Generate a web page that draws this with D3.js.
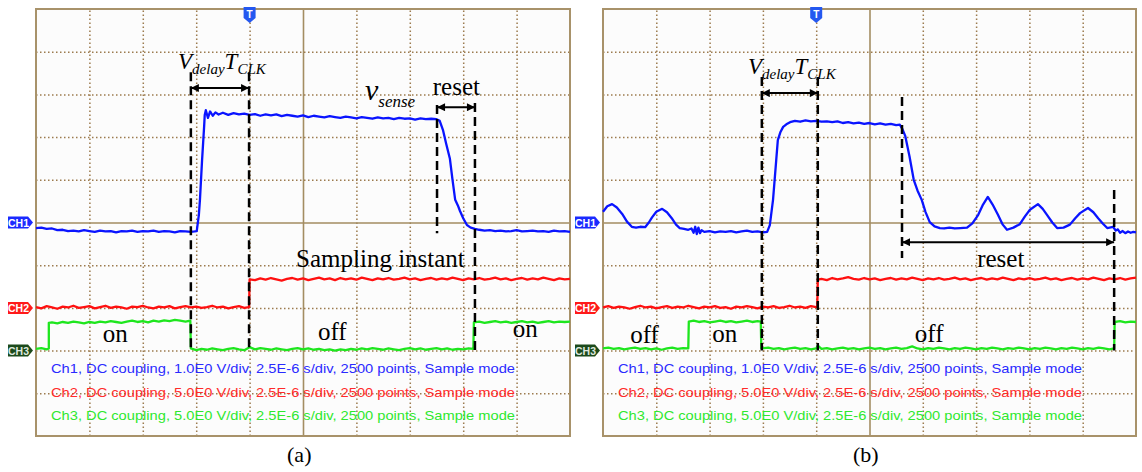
<!DOCTYPE html>
<html>
<head>
<meta charset="utf-8">
<script src="https://cdn.jsdelivr.net/npm/d3@7"></script>
<style>
  body { margin: 0; background: #fff; }
  svg { display: block; }
</style>
</head>
<body>
<div id="vis"></div>
<script>
// time in divisions (2.5E-6 s/div), value in divisions from screen centre
const ch1a = [[0,-0.13],[0.1,-0.12],[0.2,-0.15],[0.3,-0.14],[0.4,-0.18],[0.5,-0.17],[0.6,-0.2],[0.7,-0.19],[0.8,-0.21],[0.9,-0.18],
  [1.0,-0.2],[1.1,-0.22],[1.2,-0.19],[1.3,-0.21],[1.4,-0.2],[1.5,-0.23],[1.6,-0.2],[1.7,-0.21],[1.8,-0.19],[1.9,-0.22],
  [2.0,-0.2],[2.1,-0.21],[2.2,-0.19],[2.3,-0.22],[2.4,-0.2],[2.5,-0.21],[2.6,-0.23],[2.7,-0.2],[2.8,-0.21],[2.9,-0.22],
  [2.97,-0.21],[3.01,-0.2],[3.05,0.18],[3.07,0.53],[3.11,1.46],[3.15,2.28],[3.16,2.52],[3.18,2.63],[3.22,2.45],[3.26,2.6],
  [3.31,2.5],[3.36,2.58],[3.42,2.53],[3.5,2.57],[3.6,2.52],[3.7,2.56],[3.8,2.53],[3.9,2.55],[4.0,2.52],[4.1,2.54],
  [4.2,2.5],[4.3,2.53],[4.4,2.51],[4.5,2.53],[4.6,2.49],[4.7,2.52],[4.8,2.5],[4.9,2.48],[5.0,2.51],[5.1,2.47],
  [5.2,2.5],[5.3,2.48],[5.4,2.46],[5.5,2.49],[5.6,2.47],[5.7,2.45],[5.8,2.48],[5.9,2.46],[6.0,2.44],[6.1,2.47],
  [6.2,2.45],[6.3,2.43],[6.4,2.46],[6.5,2.44],[6.6,2.45],[6.7,2.42],[6.8,2.45],[6.9,2.43],[7.0,2.44],[7.1,2.41],
  [7.2,2.44],[7.3,2.42],[7.4,2.43],[7.5,2.42],[7.56,2.38],[7.62,2.17],[7.68,1.85],[7.75,1.5],[7.8,1.0],[7.85,0.53],
  [7.9,0.4],[7.94,0.27],[8.0,0.1],[8.07,-0.06],[8.14,-0.12],[8.22,-0.15],[8.3,-0.17],[8.4,-0.19],[8.5,-0.18],[8.6,-0.2],
  [8.7,-0.19],[8.8,-0.21],[8.9,-0.2],[9.0,-0.18],[9.1,-0.21],[9.2,-0.2],[9.3,-0.19],[9.4,-0.21],[9.5,-0.2],[9.6,-0.22],
  [9.7,-0.19],[9.8,-0.21],[9.9,-0.2],[10,-0.22]];

const ch2a = [[0,-1.98],[0.1,-2.01],[0.2,-1.96],[0.3,-1.99],[0.4,-2.02],[0.5,-1.97],[0.6,-1.99],[0.7,-1.95],[0.8,-2.0],[0.9,-1.98],
  [1.0,-1.96],[1.1,-2.01],[1.2,-1.98],[1.3,-1.95],[1.4,-2.0],[1.5,-1.97],[1.6,-1.99],[1.7,-2.02],[1.8,-1.97],[1.9,-1.98],
  [2.0,-1.95],[2.1,-1.99],[2.2,-2.01],[2.3,-1.97],[2.4,-1.99],[2.5,-1.96],[2.6,-2.01],[2.7,-1.98],[2.8,-1.96],[2.9,-1.99],
  [3.0,-1.97],[3.1,-2.0],[3.2,-1.98],[3.3,-1.95],[3.4,-1.99],[3.5,-1.97],[3.6,-2.01],[3.7,-1.98],[3.8,-1.96],[3.9,-2.0],
  [3.99,-1.98],[4.0,-1.33],[4.1,-1.35],[4.2,-1.31],[4.3,-1.34],[4.4,-1.3],[4.5,-1.33],[4.6,-1.36],[4.7,-1.32],[4.8,-1.3],
  [4.9,-1.34],[5.0,-1.31],[5.1,-1.35],[5.2,-1.32],[5.3,-1.29],[5.4,-1.33],[5.5,-1.31],[5.6,-1.35],[5.7,-1.3],[5.8,-1.33],
  [5.9,-1.31],[6.0,-1.34],[6.1,-1.29],[6.2,-1.32],[6.3,-1.35],[6.4,-1.31],[6.5,-1.33],[6.6,-1.3],[6.7,-1.34],[6.8,-1.32],
  [6.9,-1.29],[7.0,-1.33],[7.1,-1.31],[7.2,-1.35],[7.3,-1.32],[7.4,-1.3],[7.5,-1.34],[7.6,-1.31],[7.7,-1.33],[7.8,-1.29],
  [7.9,-1.32],[8.0,-1.35],[8.1,-1.31],[8.2,-1.33],[8.3,-1.3],[8.4,-1.34],[8.5,-1.32],[8.6,-1.29],[8.7,-1.33],[8.8,-1.31],
  [8.9,-1.35],[9.0,-1.32],[9.1,-1.3],[9.2,-1.34],[9.3,-1.31],[9.4,-1.33],[9.5,-1.29],[9.6,-1.32],[9.7,-1.35],[9.8,-1.31],
  [9.9,-1.33],[10,-1.32]];

const ch3a = [[0,-2.96],[0.1,-2.94],[0.2,-2.97],[0.24,-2.95],[0.24,-2.35],[0.3,-2.34],[0.4,-2.36],[0.5,-2.33],[0.6,-2.35],[0.7,-2.32],
  [0.8,-2.34],[0.9,-2.36],[1.0,-2.33],[1.1,-2.35],[1.2,-2.32],[1.3,-2.34],[1.4,-2.31],[1.5,-2.33],[1.6,-2.35],[1.7,-2.32],
  [1.8,-2.3],[1.9,-2.33],[2.0,-2.31],[2.1,-2.34],[2.2,-2.3],[2.3,-2.32],[2.4,-2.29],[2.5,-2.31],[2.6,-2.28],[2.7,-2.3],
  [2.8,-2.32],[2.89,-2.3],[2.9,-2.95],[3.0,-2.99],[3.1,-2.96],[3.2,-2.98],[3.3,-2.95],[3.4,-2.97],[3.5,-2.99],[3.6,-2.96],
  [3.7,-2.94],[3.8,-2.97],[3.9,-2.99],[4.0,-2.92],[4.1,-2.97],[4.2,-2.94],[4.3,-2.96],[4.4,-2.98],[4.5,-2.95],[4.6,-2.97],
  [4.7,-2.99],[4.8,-2.96],[4.9,-2.94],[5.0,-2.97],[5.1,-2.95],[5.2,-2.98],[5.3,-2.96],[5.4,-2.99],[5.5,-2.97],[5.6,-3.0],
  [5.7,-2.97],[5.8,-2.99],[5.9,-2.96],[6.0,-2.98],[6.1,-2.95],[6.2,-2.97],[6.3,-2.94],[6.4,-2.96],[6.5,-2.98],[6.6,-2.95],
  [6.7,-2.97],[6.8,-2.99],[6.9,-2.96],[7.0,-2.94],[7.1,-2.97],[7.2,-2.95],[7.3,-2.98],[7.4,-2.96],[7.5,-2.94],[7.6,-2.97],
  [7.7,-2.95],[7.8,-2.98],[7.9,-2.96],[8.0,-2.97],[8.1,-2.95],[8.19,-2.96],[8.2,-2.34],[8.3,-2.32],[8.4,-2.35],[8.5,-2.33],
  [8.6,-2.31],[8.7,-2.34],[8.8,-2.32],[8.9,-2.35],[9.0,-2.33],[9.1,-2.31],[9.2,-2.34],[9.3,-2.32],[9.4,-2.35],[9.5,-2.33],
  [9.6,-2.31],[9.7,-2.34],[9.8,-2.32],[9.9,-2.33],[10,-2.32]];

const ch1b = [[0,0.25],[0.08,0.38],[0.17,0.43],[0.26,0.35],[0.36,0.2],[0.45,0.02],[0.54,-0.1],[0.62,-0.12],[0.7,-0.1],[0.79,-0.11],
  [0.86,0.0],[0.92,0.12],[1.0,0.25],[1.11,0.32],[1.2,0.24],[1.29,0.1],[1.37,-0.05],[1.44,-0.13],[1.52,-0.15],[1.6,-0.17],
  [1.66,-0.14],[1.7,-0.24],[1.73,-0.1],[1.76,-0.27],[1.79,-0.12],[1.82,-0.25],[1.85,-0.18],[1.9,-0.22],[2.0,-0.2],[2.1,-0.23],
  [2.2,-0.21],[2.3,-0.22],[2.4,-0.2],[2.5,-0.23],[2.6,-0.21],[2.7,-0.19],[2.8,-0.22],[2.9,-0.21],[3.0,-0.23],[3.08,-0.22],
  [3.13,-0.06],[3.19,0.53],[3.25,1.46],[3.28,1.93],[3.33,2.12],[3.38,2.24],[3.44,2.3],[3.51,2.35],[3.6,2.38],[3.7,2.36],
  [3.8,2.39],[3.9,2.37],[4.0,2.38],[4.1,2.36],[4.2,2.37],[4.3,2.35],[4.4,2.37],[4.5,2.33],[4.6,2.35],[4.7,2.32],
  [4.8,2.34],[4.9,2.31],[5.0,2.33],[5.1,2.3],[5.2,2.32],[5.3,2.29],[5.4,2.31],[5.5,2.28],[5.57,2.29],[5.62,2.18],
  [5.67,2.03],[5.75,1.55],[5.83,1.0],[5.9,0.75],[5.98,0.53],[6.05,0.25],[6.13,0.01],[6.22,-0.09],[6.32,-0.13],[6.4,-0.14],
  [6.5,-0.12],[6.6,-0.14],[6.7,-0.13],[6.83,-0.12],[6.93,-0.02],[7.04,0.18],[7.13,0.42],[7.22,0.6],[7.31,0.42],[7.41,0.18],
  [7.5,-0.05],[7.58,-0.17],[7.7,-0.12],[7.82,-0.04],[7.92,0.15],[8.01,0.3],[8.16,0.43],[8.25,0.32],[8.33,0.18],[8.43,0.0],
  [8.52,-0.13],[8.64,-0.12],[8.76,-0.05],[8.86,0.1],[8.95,0.22],[9.1,0.34],[9.2,0.24],[9.29,0.1],[9.38,-0.03],[9.46,-0.13],
  [9.57,-0.1],[9.62,-0.19],[9.66,-0.16],[9.7,-0.24],[9.75,-0.2],[9.8,-0.25],[9.85,-0.21],[9.9,-0.24],[9.95,-0.22],[10,-0.23]];

const ch2b = [[0,-1.99],[0.1,-1.96],[0.2,-2.0],[0.3,-1.97],[0.4,-1.99],[0.5,-2.02],[0.6,-1.98],[0.7,-1.95],[0.8,-1.99],[0.9,-1.97],
  [1.0,-2.01],[1.1,-1.98],[1.2,-1.96],[1.3,-2.0],[1.4,-1.97],[1.5,-1.99],[1.6,-1.95],[1.7,-1.98],[1.8,-2.01],[1.9,-1.97],
  [2.0,-1.99],[2.1,-1.96],[2.2,-2.0],[2.3,-1.98],[2.4,-2.02],[2.5,-1.97],[2.6,-1.99],[2.7,-1.96],[2.8,-1.98],[2.9,-2.01],
  [3.0,-1.97],[3.1,-1.99],[3.2,-1.96],[3.3,-2.0],[3.4,-1.98],[3.5,-1.95],[3.6,-1.99],[3.7,-1.97],[3.8,-2.0],[3.9,-1.96],
  [4.0,-1.98],[4.02,-1.97],[4.03,-1.34],[4.1,-1.32],[4.2,-1.35],[4.3,-1.3],[4.4,-1.33],[4.5,-1.31],[4.6,-1.28],[4.7,-1.32],
  [4.8,-1.34],[4.9,-1.3],[5.0,-1.33],[5.1,-1.31],[5.2,-1.35],[5.3,-1.32],[5.4,-1.3],[5.5,-1.34],[5.6,-1.31],[5.7,-1.33],
  [5.8,-1.29],[5.9,-1.32],[6.0,-1.35],[6.1,-1.31],[6.2,-1.33],[6.3,-1.3],[6.4,-1.34],[6.5,-1.32],[6.6,-1.29],[6.7,-1.33],
  [6.8,-1.31],[6.9,-1.35],[7.0,-1.32],[7.1,-1.3],[7.2,-1.34],[7.3,-1.31],[7.4,-1.33],[7.5,-1.29],[7.6,-1.32],[7.7,-1.35],
  [7.8,-1.31],[7.9,-1.33],[8.0,-1.3],[8.1,-1.34],[8.2,-1.32],[8.3,-1.29],[8.4,-1.33],[8.5,-1.31],[8.6,-1.35],[8.7,-1.32],
  [8.8,-1.3],[8.9,-1.34],[9.0,-1.31],[9.1,-1.33],[9.2,-1.29],[9.3,-1.32],[9.4,-1.35],[9.5,-1.31],[9.6,-1.33],[9.7,-1.3],
  [9.8,-1.34],[9.9,-1.31],[10,-1.29]];

const ch3b = [[0,-2.95],[0.1,-2.93],[0.2,-2.96],[0.3,-2.94],[0.4,-2.97],[0.5,-2.95],[0.6,-2.93],[0.7,-2.96],[0.8,-2.94],[0.9,-2.97],
  [1.0,-2.95],[1.1,-2.98],[1.2,-2.95],[1.3,-2.93],[1.4,-2.96],[1.5,-2.94],[1.6,-2.95],[1.61,-2.32],[1.7,-2.3],[1.8,-2.33],
  [1.9,-2.31],[2.0,-2.34],[2.1,-2.32],[2.2,-2.3],[2.3,-2.33],[2.4,-2.31],[2.5,-2.34],[2.6,-2.32],[2.7,-2.3],[2.8,-2.33],
  [2.9,-2.31],[2.96,-2.32],[2.97,-2.95],[3.1,-2.93],[3.2,-2.96],[3.3,-2.94],[3.4,-2.97],[3.5,-2.95],[3.6,-2.93],[3.7,-2.96],
  [3.8,-2.94],[3.9,-2.97],[4.0,-2.95],[4.03,-2.88],[4.1,-2.96],[4.2,-2.94],[4.3,-2.97],[4.4,-2.95],[4.5,-2.93],[4.6,-2.96],
  [4.7,-2.94],[4.8,-2.97],[4.9,-2.95],[5.0,-2.93],[5.1,-2.96],[5.2,-2.94],[5.3,-2.97],[5.4,-2.95],[5.5,-2.93],[5.6,-2.96],
  [5.7,-2.94],[5.8,-2.9],[5.9,-2.95],[6.0,-2.97],[6.1,-2.94],[6.2,-2.96],[6.3,-2.93],[6.4,-2.95],[6.5,-2.97],[6.6,-2.94],
  [6.7,-2.96],[6.8,-2.93],[6.9,-2.95],[7.0,-2.97],[7.1,-2.94],[7.2,-2.96],[7.3,-2.93],[7.4,-2.95],[7.5,-2.97],[7.6,-2.94],
  [7.7,-2.96],[7.8,-2.93],[7.9,-2.95],[8.0,-2.97],[8.1,-2.94],[8.2,-2.96],[8.3,-2.93],[8.4,-2.95],[8.5,-2.97],[8.6,-2.94],
  [8.7,-2.96],[8.8,-2.93],[8.9,-2.95],[9.0,-2.97],[9.1,-2.94],[9.2,-2.96],[9.3,-2.93],[9.4,-2.95],[9.5,-2.97],[9.59,-2.95],
  [9.6,-2.33],[9.7,-2.31],[9.8,-2.34],[9.9,-2.32],[10,-2.33]];

// dashed markers [t, vTop, vBottom] and arrows [t1, t2, v]
const dashesA = [[2.9,3.52,-3.0],[3.99,3.52,-3.0],[7.51,2.75,-0.25],[8.22,2.8,-3.0]];
const dashesB = [[2.98,3.41,-3.0],[4.03,3.41,-3.0],[5.61,2.94,-0.83],[9.59,0.76,-3.0]];
const arrowsA = [[2.9,3.99,3.15],[7.51,8.22,2.7]];
const arrowsB = [[2.98,4.03,3.03],[5.61,9.59,-0.46]];

// plain labels [text, t, v]
const labelsA = [["reset",7.43,2.99],["Sampling instant",4.87,-1.04],["on",1.25,-2.8],["off",5.28,-2.75],["on",8.93,-2.68]];
const labelsB = [["reset",7.02,-1.04],["off",0.51,-2.82],["on",2.05,-2.8],["off",5.85,-2.8]];

const channelNames = ["CH1", "CH2", "CH3"];
const channelOffsets = [0, -2, -3];
const statusLines = [
  "Ch1, DC coupling, 1.0E0 V/div, 2.5E-6 s/div, 2500 points,  Sample mode",
  "Ch2, DC coupling, 5.0E0 V/div, 2.5E-6 s/div, 2500 points,  Sample mode",
  "Ch3, DC coupling, 5.0E0 V/div, 2.5E-6 s/div, 2500 points,  Sample mode"];
const statusV = [-3.52, -4.08, -4.62];

var traceColors = ["#0a14ff", "#ff1010", "#1ee61e"];
var textColors = ["#2a2aff", "#ff2a2a", "#2ee82e"];
var markColors = ["#1a2aff", "#ff1a1a", "#1c4a1c"];

var W = 1142, H = 472, plotTop = 9, plotBottom = 436;

var svg = d3.select("#vis")
    .append("svg")
    .attr("width", W)
    .attr("height", H);

var defs = svg.append("defs");
defs.append("marker")
    .attr("id", "head")
    .attr("viewBox", "0 0 10 10")
    .attr("refX", 10).attr("refY", 5)
    .attr("markerWidth", 10).attr("markerHeight", 8)
    .attr("markerUnits", "userSpaceOnUse")
    .attr("orient", "auto-start-reverse")
    .append("path")
    .attr("d", "M0,0L10,5L0,10z")
    .attr("fill", "#000");

var panels = [
    { left: 36, right: 570, traces: [ch1a, ch2a, ch3a], dashes: dashesA, arrows: arrowsA, labels: labelsA,
      vt: [2.66, 3.59], sense: [6.16, 2.87], caption: "(a)" },
    { left: 603, right: 1136, traces: [ch1b, ch2b, ch3b], dashes: dashesB, arrows: arrowsB, labels: labelsB,
      vt: [2.72, 3.48], caption: "(b)" }
];

panels.forEach(function (p) {
    var x = d3.scaleLinear().domain([0, 10]).range([p.left, p.right]);
    var y = d3.scaleLinear().domain([-5, 5]).range([plotBottom, plotTop]);
    var ph = plotBottom - plotTop, pw = p.right - p.left;
    var g = svg.append("g");

    g.append("rect")
        .attr("x", p.left).attr("y", plotTop)
        .attr("width", pw).attr("height", ph)
        .attr("fill", "#fcfcfc");

    // dotted graticule
    var gx = g.append("g")
        .attr("transform", "translate(0," + plotBottom + ")")
        .call(d3.axisBottom(x).tickValues(d3.range(1, 10)).tickSize(-ph).tickFormat(""));
    var gy = g.append("g")
        .attr("transform", "translate(" + p.left + ",0)")
        .call(d3.axisLeft(y).tickValues(d3.range(-4, 5)).tickSize(-pw).tickFormat(""));
    g.selectAll(".domain").remove();
    g.selectAll(".tick line")
        .attr("stroke", "#9c7b4e")
        .attr("stroke-width", 1.5)
        .attr("stroke-dasharray", "1.5,2.5");
    gx.selectAll(".tick").filter(d => d === 5).select("line")
        .attr("stroke", "#a38d62").attr("stroke-dasharray", null).attr("stroke-width", 1.6);
    gy.selectAll(".tick").filter(d => d === 0).select("line")
        .attr("stroke", "#a38d62").attr("stroke-dasharray", null).attr("stroke-width", 1.6);

    g.append("rect")
        .attr("x", p.left).attr("y", plotTop)
        .attr("width", pw).attr("height", ph)
        .attr("fill", "none")
        .attr("stroke", "#a8926a")
        .attr("stroke-width", 2);

    // status text
    g.selectAll(".status")
        .data(statusLines)
        .enter().append("text")
        .attr("x", p.left + 15)
        .attr("y", (d, i) => y(statusV[i]))
        .attr("fill", (d, i) => textColors[i])
        .attr("font-family", "Liberation Sans, Arial, sans-serif")
        .attr("font-size", 13.5)
        .attr("textLength", 464)
        .attr("lengthAdjust", "spacingAndGlyphs")
        .text(d => d);

    // traces
    var line = d3.line().x(d => x(d[0])).y(d => y(d[1]));
    [2, 1, 0].forEach(function (i) {
        g.append("path")
            .datum(p.traces[i])
            .attr("d", line)
            .attr("fill", "none")
            .attr("stroke", traceColors[i])
            .attr("stroke-width", 2.3)
            .attr("stroke-linejoin", "round");
    });

    // channel markers
    var mk = g.selectAll(".mk")
        .data(channelNames)
        .enter().append("g")
        .attr("transform", (d, i) => "translate(" + (p.left - 28) + "," + y(channelOffsets[i]) + ")");
    mk.append("path")
        .attr("d", "M0,-6H20L25,0L20,6H0Z")
        .attr("fill", (d, i) => markColors[i]);
    mk.append("text")
        .attr("x", 10.5).attr("y", 4)
        .attr("text-anchor", "middle")
        .attr("fill", (d, i) => i === 2 ? "#dfe8df" : "#fff")
        .attr("font-family", "Liberation Sans, Arial, sans-serif")
        .attr("font-weight", "bold")
        .attr("font-size", 10.5)
        .text(d => d);

    // trigger marker
    var tg = g.append("g").attr("transform", "translate(" + x(4) + "," + plotTop + ")");
    tg.append("path")
        .attr("d", "M-6,-2H6V9L0,14L-6,9Z")
        .attr("fill", "#2458f0");
    tg.append("text")
        .attr("y", 9).attr("text-anchor", "middle")
        .attr("fill", "#fff")
        .attr("font-family", "Liberation Sans, Arial, sans-serif")
        .attr("font-weight", "bold").attr("font-size", 10)
        .text("T");

    // dashed guides
    g.selectAll(".dash")
        .data(p.dashes)
        .enter().append("line")
        .attr("x1", d => x(d[0])).attr("x2", d => x(d[0]))
        .attr("y1", d => y(d[1])).attr("y2", d => y(d[2]))
        .attr("stroke", "#000")
        .attr("stroke-width", 2.5)
        .attr("stroke-dasharray", "9,5");

    g.selectAll(".arrow")
        .data(p.arrows)
        .enter().append("line")
        .attr("x1", d => x(d[0])).attr("x2", d => x(d[1]))
        .attr("y1", d => y(d[2])).attr("y2", d => y(d[2]))
        .attr("stroke", "#000")
        .attr("stroke-width", 2)
        .attr("marker-start", "url(#head)")
        .attr("marker-end", "url(#head)");

    var serif = "Liberation Serif, Times New Roman, serif";
    g.selectAll(".lbl")
        .data(p.labels)
        .enter().append("text")
        .attr("x", d => x(d[1])).attr("y", d => y(d[2]))
        .attr("font-family", serif)
        .attr("font-size", 25)
        .attr("fill", "#000")
        .text(d => d[0]);

    var vt = g.append("text")
        .attr("x", x(p.vt[0])).attr("y", y(p.vt[1]))
        .attr("font-family", serif)
        .attr("font-style", "italic")
        .attr("fill", "#000");
    vt.append("tspan").attr("font-size", 23).text("V");
    vt.append("tspan").attr("font-size", 15).attr("dy", 5).text("delay");
    vt.append("tspan").attr("font-size", 23).attr("dy", -5).text("T");
    vt.append("tspan").attr("font-size", 15).attr("dy", 5).text("CLK");

    if (p.sense) {
        var vs = g.append("text")
            .attr("x", x(p.sense[0])).attr("y", y(p.sense[1]))
            .attr("font-family", serif)
            .attr("font-style", "italic")
            .attr("fill", "#000");
        vs.append("tspan").attr("font-size", 30).text("v");
        vs.append("tspan").attr("font-size", 17).attr("dy", 7).text("sense");
    }

    g.append("text")
        .attr("x", x(4.93)).attr("y", y(-5.62))
        .attr("text-anchor", "middle")
        .attr("font-family", serif)
        .attr("font-size", 22)
        .attr("fill", "#000")
        .text(p.caption);
});
</script>
</body>
</html>
